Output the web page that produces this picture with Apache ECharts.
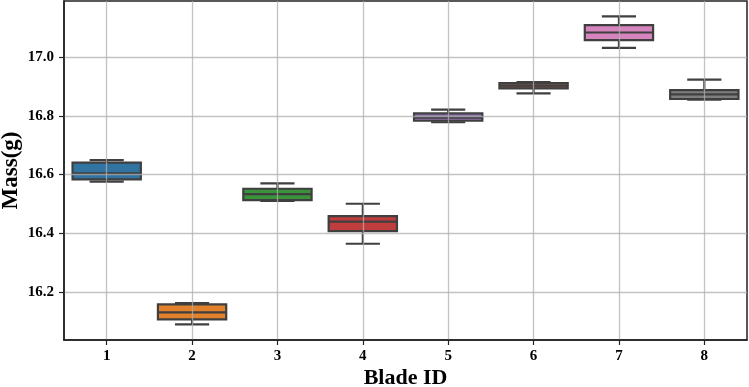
<!DOCTYPE html>
<html>
<head>
<meta charset="utf-8">
<script src="https://cdn.jsdelivr.net/npm/echarts@6/dist/echarts.min.js"></script>
<style>
  html, body { margin: 0; padding: 0; background: #fff; }
  #chart { width: 749px; height: 387px; }
</style>
</head>
<body>
<div id="chart"></div>
<script>
// blade ids and box stats
var categories = ['1', '2', '3', '4', '5', '6', '7', '8'];
var lowWhisker = [16.576, 16.091, 16.511, 16.365, 16.778, 16.876, 17.031, 16.855];
var q1 = [16.584, 16.108, 16.513, 16.408, 16.783, 16.893, 17.057, 16.857];
var medians = [16.604, 16.132, 16.534, 16.440, 16.794, 16.902, 17.083, 16.873];
var q3 = [16.641, 16.159, 16.552, 16.459, 16.808, 16.911, 17.108, 16.887];
var highWhisker = [16.649, 16.163, 16.570, 16.501, 16.821, 16.914, 17.138, 16.923];
var yTicks = [16.2, 16.4, 16.6, 16.8, 17.0];
var xTicks = [1, 2, 3, 4, 5, 6, 7, 8];

var colors = ['#3274a1', '#e1812c', '#3a923a', '#c03d3e', '#9372b2', '#845b53', '#d684bd', '#7f7f7f'];
var edge = '#3f3f3f';
var font = '"Liberation Serif", "DejaVu Serif", serif';

var boxData = categories.map(function (c, i) {
  return [i + 1, lowWhisker[i], q1[i], medians[i], q3[i], highWhisker[i]];
});

function renderBox(params, api) {
  var x = api.value(0);
  var pLow = api.coord([x, api.value(1)]);
  var pQ1 = api.coord([x, api.value(2)]);
  var pMed = api.coord([x, api.value(3)]);
  var pQ3 = api.coord([x, api.value(4)]);
  var pHigh = api.coord([x, api.value(5)]);
  var w = api.size([0.8, 0])[0];
  var cx = pMed[0];
  var line = { stroke: edge, lineWidth: 2.2 };
  return {
    type: 'group',
    children: [
      { type: 'line', shape: { x1: cx, y1: pQ3[1], x2: cx, y2: pHigh[1] }, style: line },
      { type: 'line', shape: { x1: cx, y1: pQ1[1], x2: cx, y2: pLow[1] }, style: line },
      { type: 'line', shape: { x1: cx - w / 4, y1: pHigh[1], x2: cx + w / 4, y2: pHigh[1] }, style: line },
      { type: 'line', shape: { x1: cx - w / 4, y1: pLow[1], x2: cx + w / 4, y2: pLow[1] }, style: line },
      {
        type: 'rect',
        shape: { x: cx - w / 2, y: pQ3[1], width: w, height: pQ1[1] - pQ3[1] },
        style: { fill: colors[params.dataIndex], stroke: edge, lineWidth: 2.2 }
      },
      { type: 'line', shape: { x1: cx - w / 2, y1: pMed[1], x2: cx + w / 2, y2: pMed[1] }, style: line }
    ]
  };
}

var chart = echarts.init(document.getElementById('chart'));
var option = {
  animation: false,
  grid: {
    left: 64, right: 2, top: 1, bottom: 47,
    outerBoundsMode: 'none',
    show: true, borderColor: '#222', borderWidth: 1.5, backgroundColor: '#fff'
  },
  xAxis: {
    type: 'value',
    min: 0.5,
    max: 8.5,
    z: 5,
    name: 'Blade ID',
    nameLocation: 'middle',
    nameGap: 27,
    nameMoveOverlap: false,
    nameTextStyle: { fontFamily: font, fontWeight: 'bold', fontSize: 22, color: '#000' },
    axisLine: { show: true, onZero: false, lineStyle: { color: '#222', width: 1.5 } },
    axisTick: { show: true, length: 5, customValues: xTicks, lineStyle: { color: '#222', width: 1.2 } },
    axisLabel: {
      customValues: xTicks, margin: 9,
      fontFamily: font, fontWeight: 'bold', fontSize: 15, color: '#000',
      formatter: function (v) { return categories[Math.round(v) - 1]; }
    },
    splitLine: { show: true, lineStyle: { color: 'rgba(175,175,175,0.75)', width: 1.3 } }
  },
  yAxis: {
    type: 'value',
    min: 16.038,
    max: 17.19,
    z: 5,
    name: 'Mass(g)',
    nameLocation: 'middle',
    nameGap: 41,
    nameMoveOverlap: false,
    nameTextStyle: { fontFamily: font, fontWeight: 'bold', fontSize: 23, color: '#000' },
    axisLine: { show: true, lineStyle: { color: '#222', width: 1.5 } },
    axisTick: { show: true, length: 5, customValues: yTicks, lineStyle: { color: '#222', width: 1.2 } },
    axisLabel: {
      customValues: yTicks, margin: 10,
      fontFamily: font, fontWeight: 'bold', fontSize: 15, color: '#000',
      formatter: function (v) { return v.toFixed(1); }
    },
    splitLine: { show: true, lineStyle: { color: 'rgba(175,175,175,0.75)', width: 1.3 } }
  },
  series: [{
    type: 'custom',
    z: 2,
    renderItem: renderBox,
    encode: { x: 0, y: [1, 2, 3, 4, 5] },
    data: boxData
  }]
};
chart.setOption(option);
</script>
</body>
</html>
